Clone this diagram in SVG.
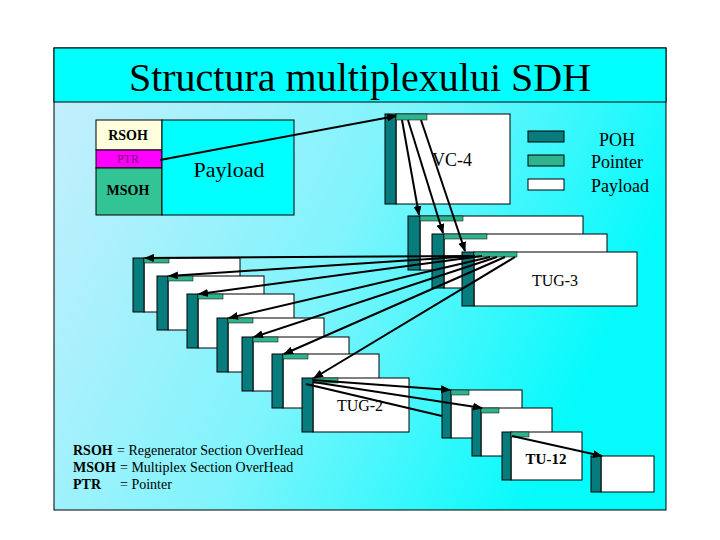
<svg xmlns="http://www.w3.org/2000/svg" width="720" height="540" viewBox="0 0 720 540">
<defs>
<linearGradient id="bg" x1="0" y1="0" x2="1" y2="0.35">
<stop offset="0" stop-color="#c9eefc"/>
<stop offset="0.55" stop-color="#7ff4fc"/>
<stop offset="1" stop-color="#05fafc"/>
</linearGradient>
<marker id="ah" markerUnits="userSpaceOnUse" markerWidth="10" markerHeight="8" refX="9" refY="4" orient="auto">
<path d="M0,0 L10,4 L0,8 Z" fill="#000"/>
</marker>
<style>
.b{stroke:#000;stroke-width:1}
.poh{fill:#087c7c;stroke:#000;stroke-width:1}
.ptr{fill:#2fb38c;stroke:#000;stroke-width:0.5}
.pl{fill:#fff;stroke:#000;stroke-width:1}
.t{font-family:"Liberation Serif","Times New Roman",serif;fill:#000}
.c line{stroke:#000;stroke-width:2}
.a{marker-end:url(#ah)}
</style>
</defs>
<rect width="720" height="540" fill="#fff"/>
<rect x="54" y="48" width="612" height="462" fill="url(#bg)" stroke="#000"/>
<rect x="54" y="48" width="612" height="54" fill="#00ffff" stroke="#000"/>
<text class="t" x="360" y="91" font-size="40" text-anchor="middle">Structura multiplexului SDH</text>

<g id="stm">
<rect class="b" x="96" y="120" width="66" height="30" fill="#ffffdd"/>
<rect class="b" x="96" y="150" width="66" height="18" fill="#ff00ff"/>
<rect class="b" x="96" y="168" width="66" height="47" fill="#33c495"/>
<rect class="b" x="162" y="120" width="132" height="95" fill="#00ffff"/>
<text class="t" x="128" y="140" font-size="14" font-weight="bold" text-anchor="middle">RSOH</text>
<text class="t" x="128" y="163" font-size="12" text-anchor="middle" style="fill:#7a0a7a">PTR</text>
<text class="t" x="128" y="195" font-size="14" font-weight="bold" text-anchor="middle">MSOH</text>
<text class="t" x="229" y="177" font-size="22" text-anchor="middle">Payload</text>
</g>

<g id="vc4">
<rect class="pl" x="396" y="114" width="114" height="90"/>
<rect class="poh" x="385" y="114" width="11" height="90"/>
<rect class="ptr" x="396" y="114" width="31" height="6"/>
<text class="t" x="452" y="166" font-size="18" text-anchor="middle">VC-4</text>
</g>

<g id="legend">
<rect class="poh" x="528" y="131" width="36" height="11"/>
<rect class="ptr" x="528" y="155" width="36" height="11" style="stroke-width:1"/>
<rect class="pl" x="528" y="179" width="36" height="11"/>
<text class="t" x="617" y="146" font-size="18" text-anchor="middle">POH</text>
<text class="t" x="617" y="168" font-size="18" text-anchor="middle">Pointer</text>
<text class="t" x="620" y="192" font-size="18" text-anchor="middle">Payload</text>
</g>

<g id="tug3-1"><rect class="pl" x="420" y="216" width="163" height="54"/><rect class="poh" x="408" y="216" width="12" height="54"/><rect class="ptr" x="420" y="216" width="43" height="5"/></g>
<g id="tug3-2"><rect class="pl" x="444" y="234" width="163" height="54"/><rect class="poh" x="432" y="234" width="12" height="54"/><rect class="ptr" x="444" y="234" width="43" height="5"/></g>
<g id="tug3-3"><rect class="pl" x="474" y="252" width="163" height="54"/><rect class="poh" x="462" y="252" width="12" height="54"/><rect class="ptr" x="474" y="252" width="43" height="5"/>
<text class="t" x="555" y="286" font-size="16" text-anchor="middle">TUG-3</text></g>

<g id="tug2-1"><rect class="pl" x="144" y="258" width="96" height="54"/><rect class="poh" x="133" y="258" width="11" height="54"/><rect class="ptr" x="144" y="258" width="25" height="5"/></g>
<g id="tug2-2"><rect class="pl" x="168" y="276" width="96" height="54"/><rect class="poh" x="157" y="276" width="11" height="54"/><rect class="ptr" x="168" y="276" width="25" height="5"/></g>
<g id="tug2-3"><rect class="pl" x="198" y="294" width="96" height="54"/><rect class="poh" x="187" y="294" width="11" height="54"/><rect class="ptr" x="198" y="294" width="25" height="5"/></g>
<g id="tug2-4"><rect class="pl" x="228" y="318" width="96" height="54"/><rect class="poh" x="217" y="318" width="11" height="54"/><rect class="ptr" x="228" y="318" width="25" height="5"/></g>
<g id="tug2-5"><rect class="pl" x="253" y="337" width="96" height="54"/><rect class="poh" x="242" y="337" width="11" height="54"/><rect class="ptr" x="253" y="337" width="25" height="5"/></g>
<g id="tug2-6"><rect class="pl" x="283" y="354" width="96" height="54"/><rect class="poh" x="272" y="354" width="11" height="54"/><rect class="ptr" x="283" y="354" width="25" height="5"/></g>
<g id="tug2-7"><rect class="pl" x="313" y="378" width="96" height="54"/><rect class="poh" x="302" y="378" width="11" height="54"/><rect class="ptr" x="313" y="378" width="25" height="5"/>
<text class="t" x="360" y="411" font-size="16" text-anchor="middle">TUG-2</text></g>

<g id="tu-1"><rect class="pl" x="451" y="390" width="71" height="48"/><rect class="poh" x="442" y="390" width="9" height="48"/><rect class="ptr" x="451" y="390" width="18" height="5"/></g>
<g id="tu-2"><rect class="pl" x="481" y="408" width="71" height="48"/><rect class="poh" x="472" y="408" width="9" height="48"/><rect class="ptr" x="481" y="408" width="18" height="5"/></g>
<g id="tu-3"><rect class="pl" x="511" y="432" width="71" height="48"/><rect class="poh" x="502" y="432" width="9" height="48"/><rect class="ptr" x="511" y="432" width="18" height="5"/>
<text class="t" x="546" y="464" font-size="15" font-weight="bold" text-anchor="middle">TU-12</text></g>
<g id="tu-4"><rect class="pl" x="601" y="456" width="53" height="36"/><rect class="poh" x="591" y="456" width="10" height="36"/></g>

<g id="connectors" class="c">
<line class="a" x1="160" y1="160" x2="396" y2="116"/>
<line class="a" x1="402" y1="120" x2="419" y2="215"/>
<line class="a" x1="408" y1="120" x2="443" y2="233"/>
<line class="a" x1="421" y1="120" x2="465" y2="251"/>
<line class="a" x1="470" y1="256" x2="145" y2="258"/>
<line class="a" x1="475" y1="256" x2="169" y2="276"/>
<line class="a" x1="482" y1="256" x2="199" y2="294"/>
<line class="a" x1="490" y1="257" x2="229" y2="318"/>
<line class="a" x1="497" y1="257" x2="254" y2="337"/>
<line class="a" x1="505" y1="257" x2="284" y2="354"/>
<line class="a" x1="515" y1="257" x2="314" y2="378"/>
<line class="a" x1="313" y1="380" x2="450" y2="390"/>
<line class="a" x1="313" y1="382" x2="482" y2="408"/>
<line x1="306" y1="384" x2="442" y2="416"/>
<line class="a" x1="512" y1="436" x2="602" y2="456"/>
</g>

<g id="notes">
<text class="t" x="73" y="455" font-size="14"><tspan font-weight="bold">RSOH</tspan><tspan x="117">= Regenerator Section OverHead</tspan></text>
<text class="t" x="73" y="472" font-size="14"><tspan font-weight="bold">MSOH</tspan><tspan x="120">= Multiplex Section OverHead</tspan></text>
<text class="t" x="73" y="489" font-size="14"><tspan font-weight="bold">PTR</tspan><tspan x="120">= Pointer</tspan></text>
</g>
</svg>
